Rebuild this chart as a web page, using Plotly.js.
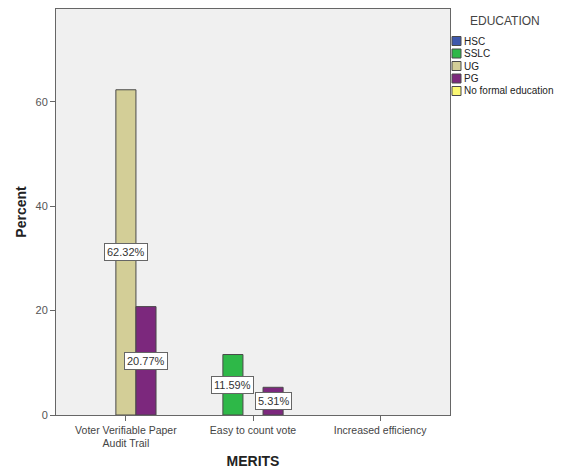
<!DOCTYPE html>
<html><head><meta charset="utf-8">
<script src="https://cdn.plot.ly/plotly-3.0.1.min.js"></script>
<style>body{margin:0;background:#fff}#chart{width:561px;height:469px}</style>
</head><body><div id="chart"></div>
<script>
const categories = ["Voter Verifiable Paper<br>Audit Trail", "Easy to count vote", "Increased efficiency"];
const seriesNames = ["HSC", "SSLC", "UG", "PG", "No formal education"];
const hsc = [null, null, null];
const sslc = [null, 11.59, null];
const ug = [62.32, null, null];
const pg = [20.77, 5.31, null];
const noFormal = [null, null, null];
const colors = ["#3E58AC", "#2EB848", "#D3CE97", "#7C287D", "#FBF873"];
const legendTitle = "EDUCATION";

const M = {l: 56, r: 111, t: 9, b: 54};
const W = 561, H = 469;
const pw = W - M.l - M.r, ph = H - M.t - M.b;
const px = x => (x - M.l) / pw;
const py = y => 1 - (y - M.t) / ph;

const seriesValues = [hsc, sslc, ug, pg, noFormal];
const bargap = 0.21;
const traces = seriesValues.map((vals, i) => ({
  type: "bar", name: seriesNames[i], x: categories, y: vals,
  marker: {color: colors[i], line: {color: "#4a4a4a", width: 1}},
  hoverinfo: "none"
}));

const annotations = [];
const shapes = [];
const slot = (1 - bargap) / seriesNames.length;
seriesValues.forEach((vals, i) => {
  vals.forEach((v, j) => {
    if (v === null) return;
    annotations.push({
      x: j + (i - (seriesNames.length - 1) / 2) * slot, y: v / 2,
      xref: "x", yref: "y", text: v.toFixed(2) + "%", showarrow: false,
      font: {family: "Liberation Sans, Arial", size: 11, color: "#333"},
      bgcolor: "#ffffff", bordercolor: "#666", borderwidth: 1, borderpad: 2
    });
  });
});

// legend (drawn manually for the compact SPSS look)
annotations.push({
  x: px(505), y: py(21.5), xref: "paper", yref: "paper", text: legendTitle,
  showarrow: false, xanchor: "center", yanchor: "middle",
  font: {family: "Liberation Sans, Arial", size: 12, color: "#444"}
});
seriesNames.forEach((name, i) => {
  const cy = 41 + i * 12.5;
  shapes.push({
    type: "rect", xref: "paper", yref: "paper",
    x0: px(452), x1: px(461), y0: py(cy - 4.5), y1: py(cy + 4.5),
    fillcolor: colors[i], line: {color: "#4a4a4a", width: 1}
  });
  annotations.push({
    x: px(462), y: py(cy), xref: "paper", yref: "paper", text: name,
    showarrow: false, xanchor: "left", yanchor: "middle",
    font: {family: "Liberation Sans, Arial", size: 10, color: "#222"}
  });
});

const layout = {
  width: W, height: H,
  margin: M,
  paper_bgcolor: "#ffffff", plot_bgcolor: "#f0f0f0",
  barmode: "group", bargap: bargap, bargroupgap: 0,
  font: {family: "Liberation Sans, Arial", color: "#444"},
  xaxis: {
    type: "category", range: [-0.55, 2.55],
    showline: true, mirror: true, linecolor: "#666", linewidth: 1,
    ticks: "outside", ticklen: 5, tickcolor: "#666",
    tickfont: {size: 10.5, color: "#444"},
    showgrid: false, zeroline: false,
    title: {text: "<b>MERITS</b>", font: {size: 14, color: "#222"}, standoff: 14}
  },
  yaxis: {
    range: [0, 77.8], tickvals: [0, 20, 40, 60],
    showline: true, mirror: true, linecolor: "#666", linewidth: 1,
    ticks: "outside", ticklen: 5, tickcolor: "#666",
    tickfont: {size: 11, color: "#555"},
    showgrid: false, zeroline: false,
    title: {text: "<b>Percent</b>", font: {size: 14, color: "#222"}, standoff: 5}
  },
  annotations: annotations,
  shapes: shapes,
  showlegend: false
};
Plotly.newPlot("chart", traces, layout, {displayModeBar: false, staticPlot: true});
</script></body></html>
